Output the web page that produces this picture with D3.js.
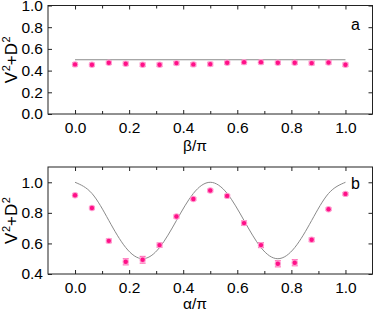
<!DOCTYPE html>
<html>
<head>
<meta charset="utf-8">
<script src="https://cdnjs.cloudflare.com/ajax/libs/d3/7.8.5/d3.min.js"></script>
<style>
  body { margin: 0; background: #fff; }
  svg { display: block; }
  svg text { font-family: "Liberation Sans", Arial, sans-serif; }
  .frame { fill: none; stroke: #222; stroke-width: 1; }
  .tick line { stroke: #222; }
</style>
</head>
<body>
<svg id="chart" width="374" height="309"></svg>
<script>
// phase positions (in units of pi), 17 settings
var phases = [0, 0.0625, 0.125, 0.1875, 0.25, 0.3125, 0.375, 0.4375, 0.5,
              0.5625, 0.625, 0.6875, 0.75, 0.8125, 0.875, 0.9375, 1.0];

// panel a: V^2+D^2 vs beta
var betaVals = [0.457, 0.454, 0.472, 0.463, 0.454, 0.454, 0.469, 0.457, 0.460,
                0.472, 0.478, 0.478, 0.472, 0.472, 0.469, 0.475, 0.454];
var betaErr  = [0.014, 0.014, 0.014, 0.016, 0.016, 0.016, 0.015, 0.015, 0.016,
                0.015, 0.016, 0.016, 0.015, 0.015, 0.016, 0.015, 0.016];
var betaTheoryX = [0, 1];
var betaTheoryY = [0.5, 0.5];

// panel b: V^2+D^2 vs alpha
var alphaVals = [0.915, 0.832, 0.617, 0.480, 0.493, 0.589, 0.776, 0.891, 0.946,
                 0.911, 0.733, 0.589, 0.467, 0.474, 0.624, 0.824, 0.924];
var alphaErr  = [0.008, 0.008, 0.012, 0.02, 0.022, 0.014, 0.01, 0.008, 0.008,
                 0.008, 0.014, 0.016, 0.02, 0.02, 0.012, 0.008, 0.008];
// theory curve read at the same settings
var alphaTheoryY = [1.0, 0.927, 0.75, 0.573, 0.5, 0.573, 0.75, 0.927, 1.0,
                    0.927, 0.75, 0.573, 0.5, 0.573, 0.75, 0.927, 1.0];

var yTicksA = [0, 0.2, 0.4, 0.6, 0.8, 1.0];
var yTicksB = [0.4, 0.6, 0.8, 1.0];
var xTicks = [0, 0.2, 0.4, 0.6, 0.8, 1.0];
var xMinor = [0.1, 0.3, 0.5, 0.7, 0.9];

var svg = d3.select("#chart");
var FONT = "'Liberation Sans', Arial, sans-serif";

function drawPanel(opt) {
  var x = d3.scaleLinear().domain([-0.1, 1.1]).range([48, 372.5]);
  var y = d3.scaleLinear().domain(opt.yDomain).range([opt.bottom, opt.top]);
  var g = svg.append("g");

  // inward ticks on all four sides
  var tickPos = function(axis, len) { return axis.tickSizeInner(-len).tickSizeOuter(0); };
  var noDomain = function(s) { s.select(".domain").remove(); s.attr("font-family", FONT).attr("font-size", 15.5); };
  g.append("g").attr("transform", "translate(0," + opt.bottom + ")")
    .call(tickPos(d3.axisBottom(x).tickValues(xTicks).tickFormat(d3.format(".1f")), 4))
    .call(noDomain)
    .call(function(s) { s.selectAll("text").attr("y", 8).attr("fill", "#000"); });
  g.append("g").attr("transform", "translate(0," + opt.bottom + ")")
    .call(tickPos(d3.axisBottom(x).tickValues(xMinor).tickFormat(""), 3)).call(noDomain);
  g.append("g").attr("transform", "translate(0," + opt.top + ")")
    .call(tickPos(d3.axisTop(x).tickValues(xTicks).tickFormat(""), 4)).call(noDomain);
  g.append("g").attr("transform", "translate(0," + opt.top + ")")
    .call(tickPos(d3.axisTop(x).tickValues(xMinor).tickFormat(""), 3)).call(noDomain);
  g.append("g").attr("transform", "translate(48,0)")
    .call(tickPos(d3.axisLeft(y).tickValues(opt.yTicks).tickFormat(d3.format(".1f")), 4))
    .call(noDomain)
    .call(function(s) { s.selectAll("text").attr("x", -5).attr("fill", "#000"); });
  g.append("g").attr("transform", "translate(372.5,0)")
    .call(tickPos(d3.axisRight(y).tickValues(opt.yTicks).tickFormat(""), 4)).call(noDomain);

  g.append("rect").attr("class", "frame")
    .attr("x", 48).attr("y", opt.top)
    .attr("width", 372.5 - 48).attr("height", opt.bottom - opt.top);

  // theory line
  var line = d3.line().x(function(d) { return x(d[0]); }).y(function(d) { return y(d[1]); })
    .curve(opt.curve);
  g.append("path").datum(d3.zip(opt.theoryX, opt.theoryY))
    .attr("d", line).attr("fill", "none").attr("stroke", "#8a8a8a").attr("stroke-width", 1);

  // error bars
  var pts = phases.map(function(p, i) { return {x: p, y: opt.vals[i], e: opt.err[i]}; });
  var eb = g.append("g").attr("stroke", "#ff70b8").attr("stroke-width", 1.2);
  eb.selectAll("line.v").data(pts).enter().append("line")
    .attr("x1", function(d) { return x(d.x); }).attr("x2", function(d) { return x(d.x); })
    .attr("y1", function(d) { return y(d.y - d.e); }).attr("y2", function(d) { return y(d.y + d.e); });
  [-1, 1].forEach(function(sgn) {
    eb.selectAll("line.c" + sgn).data(pts).enter().append("line")
      .attr("x1", function(d) { return x(d.x) - 3; }).attr("x2", function(d) { return x(d.x) + 3; })
      .attr("y1", function(d) { return y(d.y + sgn * d.e); }).attr("y2", function(d) { return y(d.y + sgn * d.e); });
  });
  g.selectAll("circle.halo").data(pts).enter().append("circle")
    .attr("cx", function(d) { return x(d.x); }).attr("cy", function(d) { return y(d.y); })
    .attr("r", 3.2).attr("fill", "#ff9fd0");
  g.selectAll("circle.pt").data(pts).enter().append("circle")
    .attr("cx", function(d) { return x(d.x); }).attr("cy", function(d) { return y(d.y); })
    .attr("r", 2.2).attr("fill", "#ff1088");

  // labels
  g.append("text").attr("x", 195).attr("y", opt.bottom + opt.xLabelDy).attr("text-anchor", "middle")
    .attr("font-size", 15.5).text(opt.xLabel);
  var yl = g.append("text").attr("text-anchor", "middle").attr("font-size", 17)
    .attr("transform", "translate(17," + ((opt.top + opt.bottom) / 2) + ") rotate(-90)");
  yl.append("tspan").text("V");
  yl.append("tspan").attr("font-size", 11).attr("dy", -7).attr("dx", 0.5).text("2");
  yl.append("tspan").attr("dy", 7).text("+D");
  yl.append("tspan").attr("font-size", 11).attr("dy", -7).attr("dx", 0.5).text("2");
  g.append("text").attr("x", 351).attr("y", opt.panelY).attr("font-size", 16).text(opt.panel);
}

drawPanel({top: 5.5, bottom: 114, yDomain: [0, 1], yTicks: yTicksA,
  vals: betaVals, err: betaErr, theoryX: betaTheoryX, theoryY: betaTheoryY,
  curve: d3.curveLinear, xLabel: "β/π", xLabelDy: 37, panel: "a", panelY: 29.5});
drawPanel({top: 167, bottom: 274, yDomain: [0.4, 1.1], yTicks: yTicksB,
  vals: alphaVals, err: alphaErr, theoryX: phases, theoryY: alphaTheoryY,
  curve: d3.curveNatural, xLabel: "α/π", xLabelDy: 34.5, panel: "b", panelY: 188.5});
</script>
</body>
</html>
